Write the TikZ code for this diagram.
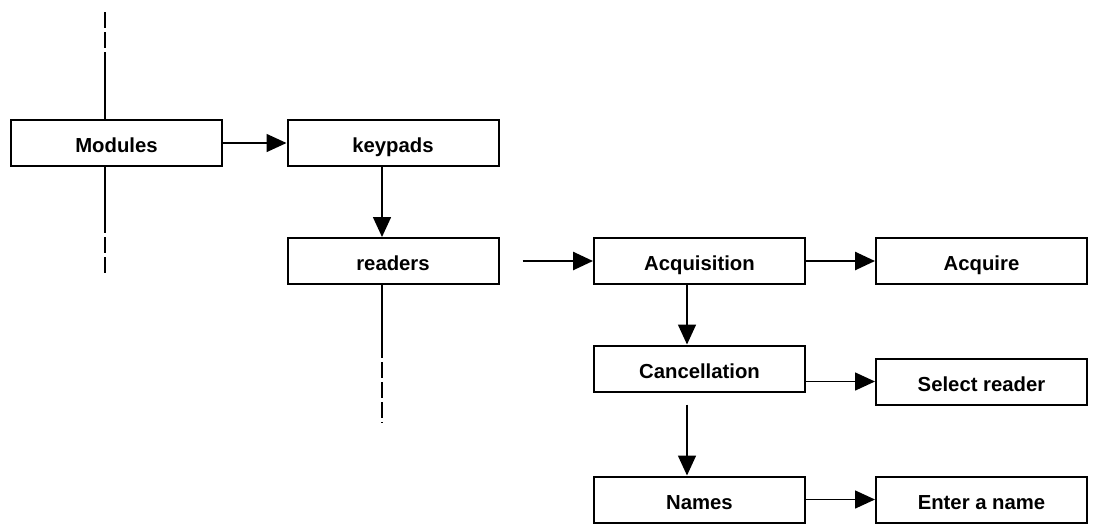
\documentclass[tikz,border=0pt]{standalone}
\usepackage{fontspec}
\setmainfont{Liberation Sans}
\usetikzlibrary{arrows.meta,positioning,calc}

\begin{document}
\begin{tikzpicture}[
  x=1pt, y=1pt,
  font=\fontsize{20.3}{24}\selectfont\bfseries,
  box/.style={draw, line width=2pt, minimum width=211pt, minimum height=46pt,
              inner sep=2pt, text height=19.5pt, text depth=0pt},
  arr/.style={-{Triangle[length=20pt,width=18pt]}, line width=1.6pt},
  tail/.style={line width=2pt},
  node distance=70pt and 69pt
]
\useasboundingbox (0,0) rectangle (1098,-531);

\node[box, line width=2.6pt] (modules) at (116.5,-143) {Modules};
\node[box, right=63.2pt of modules] (keypads) {keypads};
\node[box, below=of keypads] (readers) {readers};
\node[box, right=93.5pt of readers] (acq) {Acquisition};
\node[box, right=of acq] (acquire) {Acquire};
\node[box, below=59.5pt of acq] (cancel) {Cancellation};
\node[box, right=of cancel, yshift=-13pt] (select) {Select reader};
\node[box, below=83pt of cancel] (names) {Names};
\node[box, right=of names] (enter) {Enter a name};

% free ends of the broken lines
\coordinate (modup) at (105,-12);
\coordinate (modupcut) at (105,-52);
\coordinate (moddowncut) at (105,-233);
\coordinate (moddown) at (105,-275);
\coordinate (rdcut) at (382,-358);
\coordinate (rddown) at (382,-423);

\draw[tail] (modules.north -| modup) -- (modupcut);
\draw[tail, dash pattern=on 16pt off 4pt] (modup) -- (modupcut);
\draw[tail] (modules.south -| moddown) -- (moddowncut);
\draw[tail, dash pattern=on 16pt off 4pt, dash phase=16pt] (moddowncut) -- (moddown);
\draw[tail, line width=1.6pt] (readers.south -| rdcut) -- (rdcut);
\draw[tail, line width=1.6pt, dash pattern=on 16pt off 4pt, dash phase=16pt] (rdcut) -- (rddown);

\draw[arr] (modules) -- (keypads);
\draw[arr] ([xshift=-11pt]keypads.south) -- ([xshift=-11pt]readers.north);
\draw[arr, line width=2.6pt] ([xshift=23pt]readers.east) -- (acq.west);
\draw[arr, line width=2.6pt] (acq) -- (acquire);
\draw[arr] ([xshift=-12.5pt]acq.south) -- ([xshift=-12.5pt]cancel.north);
\draw[arr] (cancel.east |- select.west) -- (select.west);
\draw[arr] ([xshift=-12.5pt,yshift=-12pt]cancel.south) -- ([xshift=-12.5pt]names.north);
\draw[arr] (names) -- (enter);
\end{tikzpicture}
\end{document}
